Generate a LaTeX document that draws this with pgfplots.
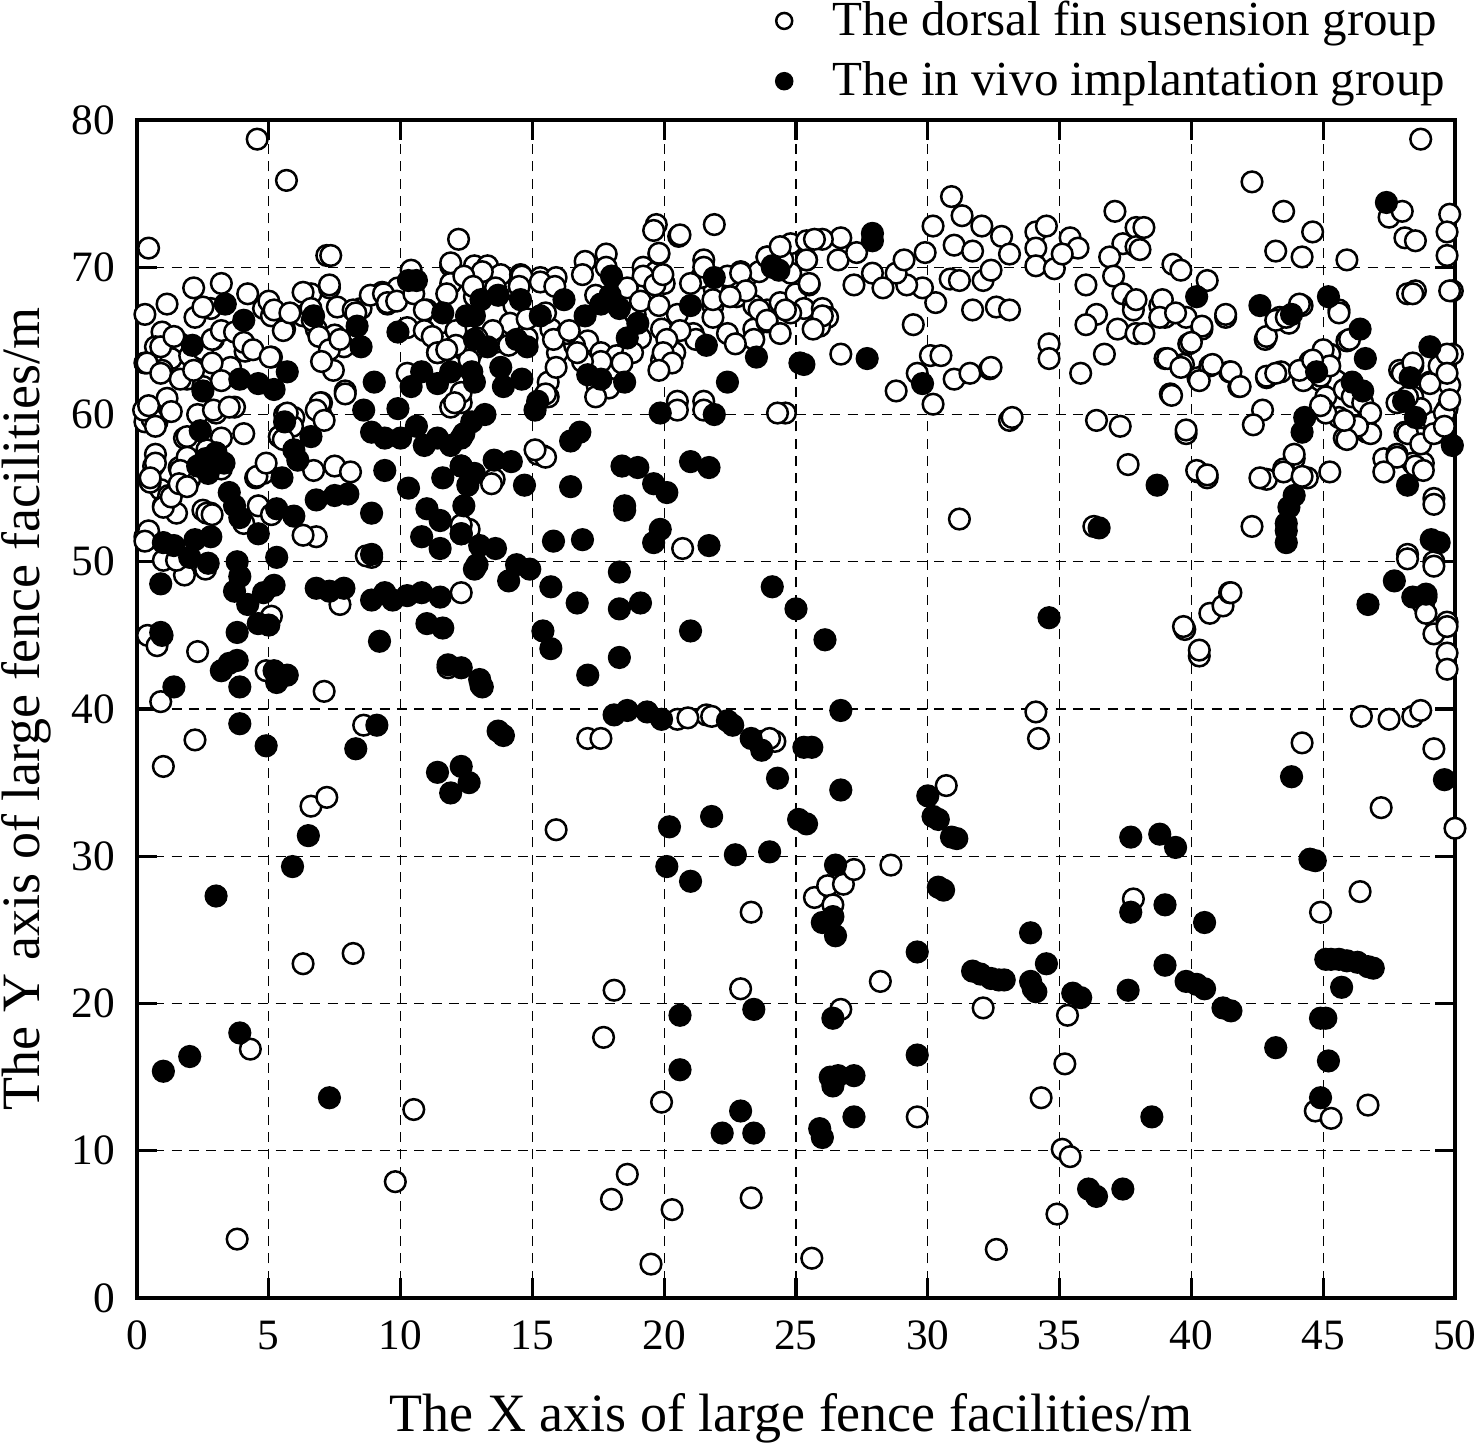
\documentclass[border=0pt]{standalone}
\usepackage{pgfplots}
\pgfplotsset{compat=1.18}
\usepackage{fontspec}
\setmainfont{Liberation Serif}
\begin{document}
\begin{tikzpicture}
\useasboundingbox (-41.1pt,-44.7pt) rectangle (401.7pt,389.4pt);
\begin{axis}[
  at={(0pt,0pt)}, anchor=south west,
  scale only axis, width=395.4pt, height=353.4pt,
  xmin=0, xmax=50, ymin=0, ymax=80,
  xtick={0,5,...,50}, ytick={0,10,...,80},
  minor tick num=0,
  tick align=inside,
  major tick length=6pt,
  every tick/.style={black, line width=1pt},
  axis line style={line width=1.2pt},
  grid=major,
  major grid style={black, line width=0.4pt, dash pattern=on 3pt off 2.2pt},
  /pgf/number format/assume math mode=true,
  ticklabel style={font=\fontsize{13}{15.6}\selectfont},
  xticklabel style={yshift=-3.3pt},
  yticklabel style={xshift=-3pt},
  xlabel={The X axis of large fence facilities/m},
  ylabel={The Y axis of large fence facilities/m},
  label style={font=\fontsize{16.2}{19}\selectfont},
  xlabel style={at={(rel axis cs:0.5,0)}, anchor=base, yshift=-40.2pt, xshift=-1.5pt},
  ylabel style={at={(rel axis cs:0,0.5)}, anchor=base, yshift=29.1pt},
  legend style={at={(rel axis cs:1,1)}, anchor=south east, draw=none, fill=none,
    inner sep=0pt, outer sep=0pt, row sep=3.3pt, nodes={inner sep=1.5pt},
    font=\fontsize{14.7}{17}\selectfont, xshift=-1.5pt, yshift=4.3pt},
  legend cell align=left,
  legend image code/.code={\path (0pt,0pt) (0.7cm,0pt); \draw[#1, mark size=2.4pt] plot coordinates {(0.25cm,0pt)};},
]
\addplot[only marks, mark=*, mark size=3.1pt, mark options={draw=black, fill=white, line width=0.75pt}] table {
x y
4.56 78.7
5.67 75.9
0.44 71.3
7.2 70.8
7.35 70.8
12.2 71.9
10.4 69.8
11.9 70.1
12.5 69.3
2.15 68.6
3.2 68.9
4.2 68.2
1.14 67.5
0.3 66.8
2.2 66.6
2.8 67.2
4.8 67.2
5.1 66.7
5.6 65.8
6.6 68.2
7.3 68.6
6.3 66.7
6.8 65.8
7.5 65.4
7.85 64.6
8.5 67.2
9.3 68.3
9.9 68.6
9.5 67.5
10.25 65.9
11.0 67.1
11.5 66.2
11.4 64.2
11.9 68.9
12.8 68.0
0.95 65.6
0.7 64.6
1.65 64.8
1.3 63.8
0.3 63.5
0.95 63.0
2.9 65.1
2.5 64.0
3.55 63.2
4.1 64.3
5.1 63.9
1.9 62.4
2.5 61.9
3.7 60.5
3.0 60.1
2.3 60.0
1.14 61.1
0.5 60.3
0.3 59.5
0.76 59.5
4.05 58.7
1.8 58.4
2.3 57.7
3.2 58.4
7.9 61.6
7.0 60.8
6.96 60.1
5.6 60.0
5.4 58.5
5.95 59.8
7.5 56.5
8.1 56.1
4.8 56.0
4.5 55.7
0.63 56.5
0.7 57.3
0.9 54.9
0.5 55.4
1.8 55.2
2.0 55.6
1.0 53.8
1.2 54.5
1.5 53.3
2.8 53.3
2.5 53.5
3.2 56.3
4.6 53.8
5.1 53.2
4.05 52.6
6.8 51.7
6.3 51.8
0.3 51.7
0.5 51.6
1.0 50.1
1.8 49.1
2.6 49.5
1.5 50.1
8.9 50.3
8.7 50.4
12.3 47.9
7.7 47.1
12.6 52.2
0.4 45.0
0.76 44.3
2.3 43.9
5.1 46.3
4.9 42.6
0.9 40.5
7.1 41.2
11.8 42.8
8.6 38.9
1.6 56.4
5.0 67.7
5.2 67.1
2.5 67.3
0.9 64.6
1.4 65.3
0.38 63.5
0.9 62.8
2.0 64.0
2.5 64.4
2.85 65.1
3.2 65.7
3.7 65.6
4.05 64.9
4.4 64.4
5.05 63.9
5.55 65.7
5.8 66.9
6.65 66.4
6.9 65.3
7.3 64.4
7.45 63.0
7.9 61.4
6.95 60.8
6.8 60.3
7.1 59.6
5.9 59.2
5.4 58.5
5.7 60.1
2.65 57.6
1.9 58.5
0.57 59.7
0.25 60.3
0.7 59.2
1.9 57.1
1.64 56.2
0.7 56.7
0.5 55.7
1.0 53.7
1.3 54.4
1.6 55.3
1.9 55.1
2.65 53.3
2.85 53.2
4.55 55.8
4.9 56.7
6.7 56.2
0.44 60.6
1.3 60.2
1.64 62.4
2.15 63.0
2.85 63.5
3.2 62.3
2.9 60.3
3.5 60.5
0.44 52.1
0.3 51.4
6.3 68.3
7.3 68.8
6.6 67.2
7.6 67.3
8.2 67.1
8.85 68.1
9.35 68.2
9.5 67.6
9.85 67.7
10.5 68.2
10.9 67.1
10.9 65.7
11.2 65.3
11.4 64.2
12.1 65.7
12.4 64.4
11.9 60.5
12.3 60.8
10.25 62.8
8.3 66.9
7.0 63.6
7.7 65.1
5.55 58.3
12.8 70.1
13.3 70.1
13.8 69.5
14.55 69.5
15.3 69.3
15.9 69.3
17.0 70.4
17.8 70.9
19.2 70.0
19.7 69.7
19.6 68.9
20.0 68.9
19.7 72.9
20.55 72.1
21.9 72.9
19.8 70.9
21.5 70.5
22.9 69.7
23.1 69.3
23.6 69.7
24.4 70.2
25.4 70.5
24.8 71.6
23.9 70.7
25.4 71.8
14.3 67.4
15.7 65.8
15.95 64.2
17.1 65.0
17.6 64.2
17.45 62.0
15.6 62.2
12.3 61.5
12.7 64.2
13.6 64.9
14.1 64.7
14.8 65.2
16.6 64.7
19.9 65.8
20.4 64.2
19.9 63.7
20.5 60.9
21.5 60.9
21.1 65.5
21.85 67.4
22.4 65.5
22.75 68.0
21.9 68.5
21.4 69.3
23.4 67.4
23.9 67.1
24.4 67.6
25.0 68.2
23.4 65.8
23.9 66.3
22.6 68.5
24.6 60.1
15.4 57.2
15.2 57.3
13.55 55.6
12.3 52.5
20.7 50.9
20.5 39.3
21.6 39.6
15.6 61.2
16.3 65.5
18.2 64.0
18.9 66.8
17.9 61.8
11.9 70.3
13.1 69.7
14.6 69.4
12.4 69.4
11.75 68.2
12.75 68.7
13.6 68.6
14.5 68.7
15.3 69.0
15.85 68.7
16.9 69.5
17.8 70.0
19.2 69.4
19.65 68.8
19.95 69.5
19.8 70.95
20.6 72.2
19.6 72.5
17.4 68.1
18.6 68.6
19.1 67.7
19.8 67.4
20.5 66.8
21.0 68.9
21.5 70.0
22.4 69.4
22.9 69.6
23.1 68.4
21.85 66.6
21.85 67.8
22.5 68.0
23.6 67.1
23.9 66.4
23.9 70.7
24.1 70.0
23.4 65.1
22.7 64.8
21.2 65.1
20.6 65.7
20.1 65.1
19.96 64.2
20.3 63.5
19.8 63.0
19.1 65.2
18.8 64.2
18.4 63.5
17.6 63.6
16.9 63.6
16.7 64.2
15.9 63.2
15.8 65.1
16.4 65.7
15.5 66.9
14.15 66.2
14.8 66.5
13.5 65.7
12.9 65.2
12.6 63.7
12.1 64.7
11.75 64.4
15.5 61.4
12.05 60.8
17.4 61.2
20.5 60.3
21.5 60.3
24.3 60.1
15.5 57.1
15.1 57.6
13.45 55.3
30.9 74.8
31.3 73.5
30.2 72.8
32.05 72.8
32.8 72.1
31.0 71.5
31.7 71.1
33.1 70.9
29.9 71.0
30.85 69.2
31.2 69.1
32.1 69.1
32.4 69.8
30.3 67.6
31.7 67.1
32.6 67.3
33.1 67.1
29.8 68.6
29.2 68.8
28.8 69.6
27.9 69.6
27.2 68.8
28.3 68.6
29.1 70.5
26.7 72.0
26.0 71.9
25.7 71.9
25.4 70.5
26.6 70.5
27.3 71.0
25.5 68.8
24.8 69.6
25.3 67.2
26.0 67.2
26.2 66.6
25.9 66.0
24.8 66.9
29.45 66.1
26.7 64.1
30.1 64.0
30.5 64.0
29.6 62.8
28.8 61.6
30.2 60.7
31.0 62.4
31.6 62.8
32.35 63.1
32.4 63.2
33.1 59.6
33.2 59.8
34.1 72.4
34.5 72.8
35.4 72.0
35.7 71.3
34.1 71.3
34.1 70.1
34.8 69.9
35.1 70.9
37.1 73.8
37.9 72.7
37.4 71.6
36.9 70.7
37.9 71.4
36.0 68.8
37.05 69.4
37.4 68.2
37.8 67.5
37.8 67.1
36.4 66.8
36.0 66.1
37.2 65.8
37.9 65.5
36.7 64.1
35.8 62.8
34.6 64.8
34.6 63.8
36.4 59.6
37.3 59.2
37.6 56.6
31.2 52.9
36.3 52.4
34.1 39.8
34.2 38.0
24.4 65.5
24.6 67.1
25.5 68.9
24.5 70.5
24.4 71.4
26.0 66.7
25.65 65.8
48.7 78.7
42.3 75.8
43.5 73.8
44.6 72.4
43.2 71.1
44.2 70.7
45.9 70.5
47.5 73.4
48.0 73.8
48.1 72.0
48.5 71.8
49.8 73.6
49.7 72.4
49.7 70.8
48.2 68.2
48.5 68.4
49.9 68.4
39.3 70.2
39.6 69.8
40.6 69.1
38.2 72.7
38.05 71.2
38.8 67.4
39.0 66.6
39.8 66.6
40.4 65.8
41.3 66.6
39.9 64.8
39.0 63.8
39.7 63.4
40.25 62.5
40.7 63.3
41.45 62.9
41.8 61.9
39.2 61.4
39.8 58.7
42.85 62.5
43.4 62.9
42.3 52.4
43.9 57.0
43.5 56.3
44.4 55.7
45.25 56.1
42.85 55.6
40.25 56.1
40.6 55.7
43.7 66.2
44.2 67.4
42.8 65.1
43.35 66.6
44.5 63.6
44.9 63.9
45.25 64.1
44.9 62.3
45.5 62.3
45.1 61.2
45.0 60.4
45.6 59.8
46.0 58.8
45.8 58.4
46.6 59.5
46.65 58.8
45.9 65.0
45.6 67.1
47.9 63.0
48.4 63.3
49.05 62.2
49.4 63.3
49.9 64.1
49.8 62.0
48.0 60.9
48.4 61.2
48.7 60.4
49.2 59.5
49.7 60.4
48.1 58.8
48.7 58.4
49.4 58.8
47.3 57.0
47.8 57.3
48.4 56.7
48.8 56.7
49.2 54.3
48.2 50.5
49.2 50.0
48.9 47.6
49.3 45.4
49.7 45.9
49.7 43.8
49.7 42.7
46.45 39.5
47.5 39.3
48.4 39.5
48.7 39.9
39.75 45.4
40.3 43.6
40.7 46.5
41.2 47.0
41.45 47.9
37.9 67.8
38.9 67.8
38.8 66.6
39.4 66.9
38.2 65.5
40.4 66.0
40.0 64.9
41.3 66.8
39.1 63.8
39.6 63.2
40.3 62.3
40.8 63.4
41.5 62.9
41.85 61.9
39.25 61.3
42.85 62.6
43.2 62.8
42.7 60.3
42.35 59.3
39.8 58.95
40.2 56.2
40.6 55.9
42.6 55.7
43.5 56.1
43.9 57.3
44.2 55.8
42.85 65.3
43.2 66.4
44.1 67.5
43.6 66.6
45.6 66.9
46.0 65.1
45.0 64.4
44.25 62.3
44.9 62.6
45.25 63.3
45.8 61.7
46.1 61.2
46.5 60.8
46.8 60.1
46.8 58.7
46.3 59.2
45.9 58.3
45.1 60.1
44.9 60.6
45.8 59.6
44.1 63.0
44.6 63.7
48.0 62.8
48.4 63.5
49.05 62.1
49.7 64.1
49.7 62.8
47.8 60.8
48.2 61.2
49.6 60.1
49.8 61.0
48.2 58.7
48.7 58.0
49.2 58.7
49.6 59.2
47.8 57.1
47.3 56.1
48.5 56.5
48.8 56.2
48.4 68.2
49.8 68.4
49.2 53.9
48.2 50.2
49.2 49.7
48.8 47.1
48.9 46.5
49.2 45.1
49.7 45.6
40.3 44.0
41.5 47.9
39.7 45.6
3.8 4.0
9.8 7.9
10.5 12.8
4.3 16.9
6.3 22.7
8.2 23.4
6.6 33.4
7.2 34.0
1.0 36.1
2.2 37.9
15.9 31.8
17.1 38.0
17.6 38.0
17.7 17.7
18.1 20.9
18.0 6.7
18.6 8.4
19.5 2.3
19.9 13.3
20.3 6.0
20.9 39.4
21.8 39.5
23.3 26.2
22.9 21.0
23.3 6.8
24.2 37.8
25.6 2.7
25.7 27.2
26.2 28.0
26.4 26.7
26.8 28.1
27.2 29.1
26.7 19.6
28.2 21.5
28.6 29.4
29.6 12.3
30.7 34.8
32.1 19.7
32.6 3.3
34.3 13.6
35.3 19.2
35.2 15.9
35.1 10.1
35.4 9.6
34.9 5.7
37.8 27.1
44.7 12.7
44.9 26.2
45.3 12.2
46.4 27.6
46.7 13.1
47.2 33.3
49.2 37.3
50.0 31.9
44.2 37.7
23.7 37.8
24.0 38.0
};
\addlegendentry{The dorsal fin susension group}
\addplot[only marks, mark=*, mark size=3.1pt, mark options={draw=black, fill=black, line width=0.75pt}] table {
x y
3.35 67.5
4.05 66.4
2.1 64.7
2.5 61.6
3.9 62.4
4.6 62.1
5.2 61.7
5.7 62.9
2.4 58.9
2.6 57.0
3.0 57.4
2.7 56.0
2.3 56.5
3.3 56.7
5.6 59.5
5.95 57.6
6.6 58.5
6.7 66.7
8.35 66.0
8.5 64.6
9.0 62.2
9.9 65.6
10.3 69.1
10.6 69.1
11.6 66.9
12.8 66.7
10.8 62.9
10.4 61.9
11.4 62.1
11.9 62.9
12.7 62.9
8.6 60.3
9.9 60.4
8.9 58.8
9.4 58.4
10.0 58.4
10.6 59.2
10.9 57.9
11.4 58.4
11.9 57.9
12.4 58.7
9.4 56.2
10.3 55.0
11.6 55.7
12.3 56.5
11.0 53.6
11.5 52.8
12.4 53.8
10.8 51.7
11.5 50.9
12.3 51.9
12.9 49.8
3.5 54.7
3.7 53.8
3.9 53.0
4.6 51.9
5.3 53.6
5.95 53.1
6.8 54.2
7.5 54.5
8.0 54.6
8.9 53.3
5.5 55.7
6.1 56.9
2.2 51.5
2.8 51.7
1.0 51.3
1.4 51.1
2.0 50.3
2.7 49.9
3.8 50.0
3.9 49.0
3.7 48.0
4.2 47.1
4.8 47.9
5.2 48.4
5.3 50.3
3.8 45.2
3.5 43.1
4.6 45.8
5.0 45.7
3.8 43.3
3.2 42.6
3.9 41.5
5.2 42.6
5.7 42.3
5.3 41.8
0.9 45.2
0.95 45.0
1.4 41.5
9.2 44.6
8.9 50.5
8.9 47.4
9.4 47.9
9.7 47.4
10.25 47.7
11.5 47.6
11.0 45.8
11.6 45.5
11.8 43.0
13.0 42.0
10.8 47.9
0.9 48.5
6.8 48.2
7.3 48.0
7.85 48.2
18.0 69.4
21.9 69.3
24.1 70.1
24.35 69.8
21.0 67.4
21.6 64.7
23.5 63.9
25.15 63.5
22.4 62.2
19.85 60.1
21.9 60.0
13.05 67.8
13.7 68.1
14.55 67.8
15.3 66.7
16.2 67.8
17.0 66.7
17.6 67.5
17.95 68.1
18.3 67.2
19.0 66.2
18.6 65.2
12.5 66.7
12.8 65.1
13.3 64.6
14.4 65.1
14.8 64.6
13.8 63.2
12.8 62.2
13.9 61.9
14.6 62.4
15.1 60.3
15.2 60.9
17.1 62.7
17.6 62.4
18.5 62.2
12.3 58.4
12.7 59.5
13.2 60.0
12.3 56.5
12.8 56.0
12.55 55.2
13.55 56.9
14.2 56.8
14.7 55.2
16.45 55.1
16.45 58.2
16.8 58.8
18.4 56.5
19.0 56.4
19.6 55.3
20.1 54.7
18.5 53.8
18.5 53.5
15.8 51.4
16.9 51.5
19.85 52.2
19.6 51.3
21.7 51.1
21.0 56.8
21.7 56.4
12.3 51.9
13.0 51.1
13.6 50.9
14.4 49.8
14.9 49.5
12.8 49.5
14.1 48.7
15.7 48.3
16.7 47.2
18.3 49.3
18.3 46.8
19.1 47.2
21.0 45.3
24.1 48.3
25.0 46.8
15.4 45.3
15.7 44.1
18.3 43.5
17.1 42.3
13.05 41.6
12.3 42.8
18.1 39.6
18.6 39.9
19.35 39.8
19.9 39.3
22.4 39.2
13.7 38.5
27.9 72.3
27.9 71.8
25.3 63.4
27.7 63.8
29.8 62.1
36.5 52.3
26.1 44.7
34.6 46.2
26.7 39.9
47.4 74.4
40.2 68.0
42.6 67.4
43.8 66.8
45.2 68.0
46.4 65.8
46.6 63.8
44.75 62.9
46.1 62.2
46.5 61.6
49.05 64.6
48.3 62.5
48.05 60.9
48.5 59.8
44.3 59.8
44.2 58.8
49.9 57.9
48.2 55.2
38.7 55.2
43.9 54.5
43.7 53.7
43.6 52.6
43.6 52.1
43.6 51.3
49.1 51.5
49.4 51.3
47.7 48.7
46.7 47.1
48.4 47.6
48.9 47.8
1.0 15.4
2.0 16.4
3.0 27.3
3.9 18.0
3.9 39.0
4.9 37.5
5.9 29.3
6.5 31.4
7.3 13.6
8.3 37.3
9.1 38.9
11.4 35.7
11.9 34.3
12.3 36.1
12.6 35.0
13.9 38.2
13.1 41.5
20.2 32.0
20.1 29.3
21.0 28.3
20.6 19.2
20.6 15.5
21.8 32.7
22.2 11.2
22.7 30.1
22.9 12.7
23.4 11.2
23.4 19.6
23.3 38.0
23.7 37.2
24.0 30.3
24.3 35.3
25.1 32.5
25.4 32.2
25.6 37.4
25.3 37.4
25.9 11.5
26.0 10.9
26.0 25.5
26.4 25.9
26.5 24.6
26.5 29.4
26.4 19.0
26.3 15.0
26.4 14.4
26.6 15.1
26.7 34.5
27.2 15.1
27.2 12.3
22.6 38.9
29.6 23.5
29.6 16.5
30.0 34.1
30.2 32.7
30.4 32.5
30.4 27.9
30.6 27.7
30.9 31.3
31.1 31.2
31.7 22.2
32.0 22.0
32.4 21.7
32.7 21.6
32.9 21.6
33.9 21.5
34.0 21.0
34.1 20.8
33.9 24.8
34.5 22.7
35.5 20.7
35.8 20.4
36.1 7.4
36.4 6.9
37.4 7.4
37.6 20.9
37.7 26.2
37.7 31.3
38.5 12.3
38.8 31.5
39.0 22.6
39.0 26.7
39.4 30.6
39.8 21.5
40.2 21.3
40.5 21.0
40.5 25.5
41.2 19.7
41.5 19.5
43.2 17.0
43.8 35.4
44.5 29.8
44.7 29.7
44.9 19.0
45.1 19.0
44.9 13.6
45.2 16.1
45.1 23.0
45.3 23.0
45.6 23.0
45.7 21.1
45.9 22.9
46.3 22.8
46.7 22.5
46.9 22.4
49.6 35.2
};
\addlegendentry{The in vivo implantation group}
\end{axis}
\end{tikzpicture}
\end{document}
